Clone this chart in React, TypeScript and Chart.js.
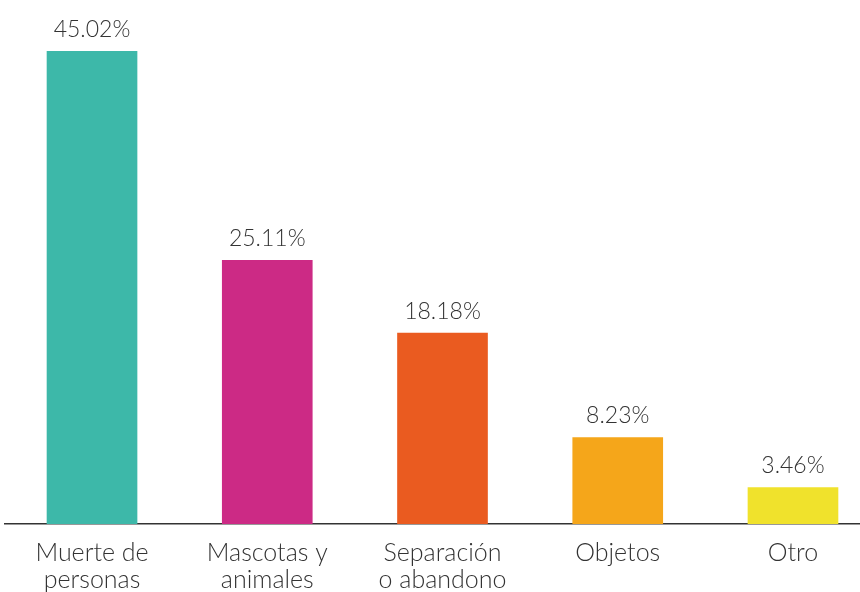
import React, { useEffect, useRef } from "react";
import { Chart, registerables } from "chart.js";

Chart.register(...registerables);

const categories: string[][] = [
  ["Muerte de", "personas"],
  ["Mascotas y", "animales"],
  ["Separación", "o abandono"],
  ["Objetos"],
  ["Otro"],
];
const values: number[] = [45.02, 25.11, 18.18, 8.23, 3.46];
const colors: string[] = ["#3db8a9", "#cc2a85", "#ea5b20", "#f5a61a", "#f0e22c"];

const FONT = "Lato";

const valueLabels = {
  id: "valueLabels",
  afterDatasetsDraw(chart: any) {
    const ctx = chart.ctx;
    const meta = chart.getDatasetMeta(0);
    ctx.save();
    ctx.fillStyle = "#333333";
    ctx.font = `300 23px ${FONT}`;
    ctx.textAlign = "center";
    ctx.textBaseline = "middle";
    meta.data.forEach((bar: any, i: number) => {
      ctx.fillText(values[i].toFixed(2) + "%", bar.x, bar.y - 22);
    });
    ctx.restore();
  },
};

export default function App() {
  const ref = useRef<HTMLCanvasElement>(null);
  useEffect(() => {
    if (!ref.current) return;
    const chart = new Chart(ref.current, {
      type: "bar",
      data: {
        labels: categories,
        datasets: [
          {
            data: values,
            backgroundColor: colors,
            barThickness: 90,
          },
        ],
      },
      options: {
        animation: false,
        responsive: false,
        devicePixelRatio: 1,
        layout: { padding: { left: 4.4, right: 0.4, top: 20, bottom: 0 } },
        plugins: { legend: { display: false }, tooltip: { enabled: false } },
        scales: {
          x: {
            grid: { display: false, drawTicks: false },
            border: { display: true, color: "#333333", width: 1.5 },
            ticks: {
              color: "#333333",
              font: { family: FONT, size: 25, weight: "300", lineHeight: 1.08 },
              padding: 15,
              maxRotation: 0,
              autoSkip: false,
            },
            afterFit: (scale: any) => {
              scale.height = 68;
            },
          },
          y: {
            display: false,
            min: 0,
            max: 48,
          },
        },
      },
      plugins: [valueLabels],
    });
    return () => chart.destroy();
  }, []);
  return (
    <div style={{ position: "absolute", left: 0, top: 0, width: 860, height: 592, overflow: "hidden", background: "#fff" }}>
      <canvas ref={ref} width={881} height={592} style={{ width: 881, height: 592 }} />
    </div>
  );
}
